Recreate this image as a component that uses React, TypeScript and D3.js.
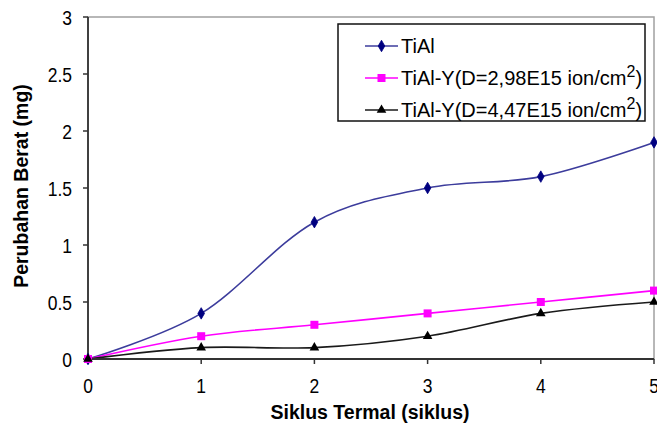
import React from 'react';
import * as d3 from 'd3';

// chart values
const cycles = [0, 1, 2, 3, 4, 5];
const tiAl = [0, 0.4, 1.2, 1.5, 1.6, 1.9];
const tiAlY298 = [0, 0.2, 0.3, 0.4, 0.5, 0.6];
const tiAlY447 = [0, 0.1, 0.1, 0.2, 0.4, 0.5];
const yTicks = [0, 0.5, 1, 1.5, 2, 2.5, 3];
const xTicks = [0, 1, 2, 3, 4, 5];

const series = [
  { name: 'TiAl', values: tiAl, line: '#3c3c9c', fill: '#000080', marker: 'diamond' },
  { name: 'TiAl-Y(D=2,98E15 ion/cm', values: tiAlY298, line: '#ff00ff', fill: '#ff00ff', marker: 'square', sup: '2' },
  { name: 'TiAl-Y(D=4,47E15 ion/cm', values: tiAlY447, line: '#1a1a1a', fill: '#000000', marker: 'triangle', sup: '2' },
];

const width = 657;
const height = 427;
const margin = { top: 17, right: 3, bottom: 68, left: 88 };
const font = 'Liberation Sans, Arial, sans-serif';

function Marker({ type, x, y, color }: { type: string; x: number; y: number; color: string }) {
  if (type === 'diamond') {
    const s = d3.symbol().type(d3.symbolDiamond).size(38)();
    return <path d={s || ''} transform={`translate(${x},${y})`} fill={color} stroke={color} strokeWidth={0.8} />;
  }
  if (type === 'square') {
    return <rect x={x - 4} y={y - 4} width={8} height={8} fill={color} />;
  }
  const t = d3.symbol().type(d3.symbolTriangle).size(40)();
  return <path d={t || ''} transform={`translate(${x},${y})`} fill={color} />;
}

export default function App() {
  const xScale = d3.scaleLinear().domain([0, 5]).range([margin.left, width - margin.right]);
  const yScale = d3.scaleLinear().domain([0, 3]).range([height - margin.bottom, margin.top]);

  const line = d3
    .line<number>()
    .x((_, i) => xScale(cycles[i]))
    .y(d => yScale(d))
    .curve(d3.curveCardinal.tension(0));

  const x0 = xScale(0);
  const x1 = xScale(5);
  const y0 = yScale(0);
  const y1 = yScale(3);

  const legend = { x: 338, y: 24, w: 307, h: 97 };

  return (
    <svg width={width} height={height} style={{ position: 'absolute', left: 0, top: 0, background: '#fff' }} fontFamily={font}>
      {/* plot area border */}
      <rect x={x0} y={y1} width={x1 - x0} height={y0 - y1} fill="none" stroke="#a0a0a0" strokeWidth={1.5} />

      {/* series */}
      {series.map(s => (
        <path key={s.name} d={line(s.values) || ''} fill="none" stroke={s.line} strokeWidth={1.6} />
      ))}

      {/* axes */}
      <line x1={x0} x2={x0} y1={y1} y2={y0} stroke="#333" strokeWidth={1.8} />
      <line x1={x0} x2={x1} y1={y0} y2={y0} stroke="#333" strokeWidth={1.8} />
      {yTicks.map(t => (
        <g key={'y' + t}>
          <line x1={x0 - 5} x2={x0} y1={yScale(t)} y2={yScale(t)} stroke="#333" strokeWidth={1.5} />
          <text transform={`translate(${x0 - 16},${yScale(t) + 8}) scale(1,1.15)`} textAnchor="end" fontSize={17.5} fill="#000">
            {t}
          </text>
        </g>
      ))}
      {xTicks.map(t => (
        <g key={'x' + t}>
          <line x1={xScale(t)} x2={xScale(t)} y1={y0} y2={y0 + 5} stroke="#333" strokeWidth={1.5} />
          <text transform={`translate(${xScale(t)},${y0 + 34}) scale(1,1.15)`} textAnchor="middle" fontSize={17.5} fill="#000">
            {t}
          </text>
        </g>
      ))}

      {/* markers on top */}
      {series.map(s => (
        <g key={s.name + 'm'}>
          {s.values.map((v, i) => (
            <Marker key={i} type={s.marker} x={xScale(cycles[i])} y={yScale(v)} color={s.fill} />
          ))}
        </g>
      ))}

      {/* axis titles */}
      <text x={370} y={419} textAnchor="middle" fontSize={19.5} fontWeight="bold">
        Siklus Termal (siklus)
      </text>
      <text transform={`translate(28,186) rotate(-90)`} textAnchor="middle" fontSize={19.5} fontWeight="bold">
        Perubahan Berat (mg)
      </text>

      {/* legend */}
      <rect x={legend.x} y={legend.y} width={legend.w} height={legend.h} fill="#fff" stroke="#111" strokeWidth={1.5} />
      {series.map((s, i) => {
        const cy = legend.y + 22 + i * 32;
        return (
          <g key={s.name + 'l'}>
            <line x1={365} x2={398} y1={cy} y2={cy} stroke={s.line} strokeWidth={1.6} />
            <Marker type={s.marker} x={381.5} y={cy} color={s.fill} />
            <text x={401} y={cy + 7} fontSize={20}>
              {s.name}
              {s.sup && (
                <tspan dy="-0.5em" fontSize={16}>
                  {s.sup}
                </tspan>
              )}
              {s.sup && <tspan dy="0.4em">)</tspan>}
            </text>
          </g>
        );
      })}
    </svg>
  );
}
